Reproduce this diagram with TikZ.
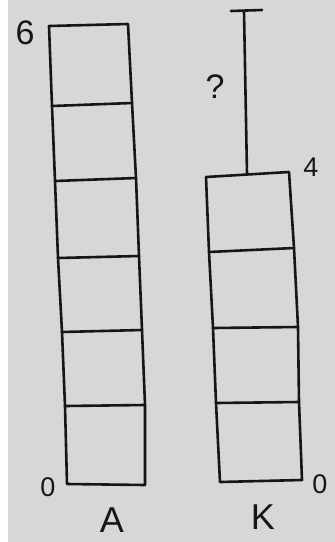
\documentclass[tikz,border=0pt]{standalone}
\usepackage{fontspec}
\setmainfont{Liberation Sans}
\definecolor{paper}{HTML}{D7D7D7}
\definecolor{ink}{HTML}{161616}
\begin{document}
\begin{tikzpicture}[x=1pt,y=-1pt,
  pen/.style={draw=ink,line width=2.6pt,line join=round,line cap=round},
  lbl/.style={text=ink,inner sep=0pt,font=\fontsize{27}{27}\selectfont},
  tall/.style={text=ink,inner sep=0pt,font=\fontsize{34}{34}\selectfont},
  big/.style={text=ink,inner sep=0pt,font=\fontsize{36}{36}\selectfont}]
\useasboundingbox (0,0) rectangle (335,542);
\fill[white] (0,0) rectangle (335,542);
\fill[paper] (8,0) rectangle (335,542);
% column A corners
\coordinate (a0l) at (49,26);  \coordinate (a0r) at (128,24);
\coordinate (a1l) at (52,106); \coordinate (a1r) at (132,103);
\coordinate (a2l) at (55,181); \coordinate (a2r) at (136,178);
\coordinate (a3l) at (58,258); \coordinate (a3r) at (139,256);
\coordinate (a4l) at (62,332); \coordinate (a4r) at (142,330);
\coordinate (a5l) at (65,406); \coordinate (a5r) at (145,405);
\coordinate (a6l) at (67,484); \coordinate (a6r) at (145,485);
\draw[pen] (a0l) -- (a1l) -- (a2l) -- (a3l) -- (a4l) -- (a5l) -- (a6l) -- (a6r) -- (a5r) -- (a4r) -- (a3r) -- (a2r) -- (a1r) -- (a0r) -- cycle;
\foreach \i in {1,...,5} \draw[pen] (a\i l) -- (a\i r);
% column K corners
\coordinate (k0l) at (206,177); \coordinate (k0r) at (289,172);
\coordinate (k1l) at (209,252); \coordinate (k1r) at (294,248);
\coordinate (k2l) at (213,328); \coordinate (k2r) at (298,327);
\coordinate (k3l) at (216,403); \coordinate (k3r) at (299,402);
\coordinate (k4l) at (220,482); \coordinate (k4r) at (302,480);
\draw[pen] (k0l) -- (k1l) -- (k2l) -- (k3l) -- (k4l) -- (k4r) -- (k3r) -- (k2r) -- (k1r) -- (k0r) -- cycle;
\foreach \i in {1,...,3} \draw[pen] (k\i l) -- (k\i r);
% missing part bar
\coordinate (tl) at (231,11); \coordinate (tr) at (262,10);
\coordinate (tm) at (244,11); \coordinate (tb) at (247,174);
\draw[pen] (tl) -- (tr);
\draw[pen] (tm) -- (tb);
% labels
\node[tall] (six) at (25,33) {6};
\node[tall] (q) at (215,87) {?};
\node[lbl] (four) at (311,167) {4};
\node[lbl] (zeroA) at (48,487) {0};
\node[lbl] (zeroK) at (320,484) {0};
\node[big] (A) at (112,520) {A};
\node[big] (K) at (263,517) {K};
\end{tikzpicture}
\end{document}
